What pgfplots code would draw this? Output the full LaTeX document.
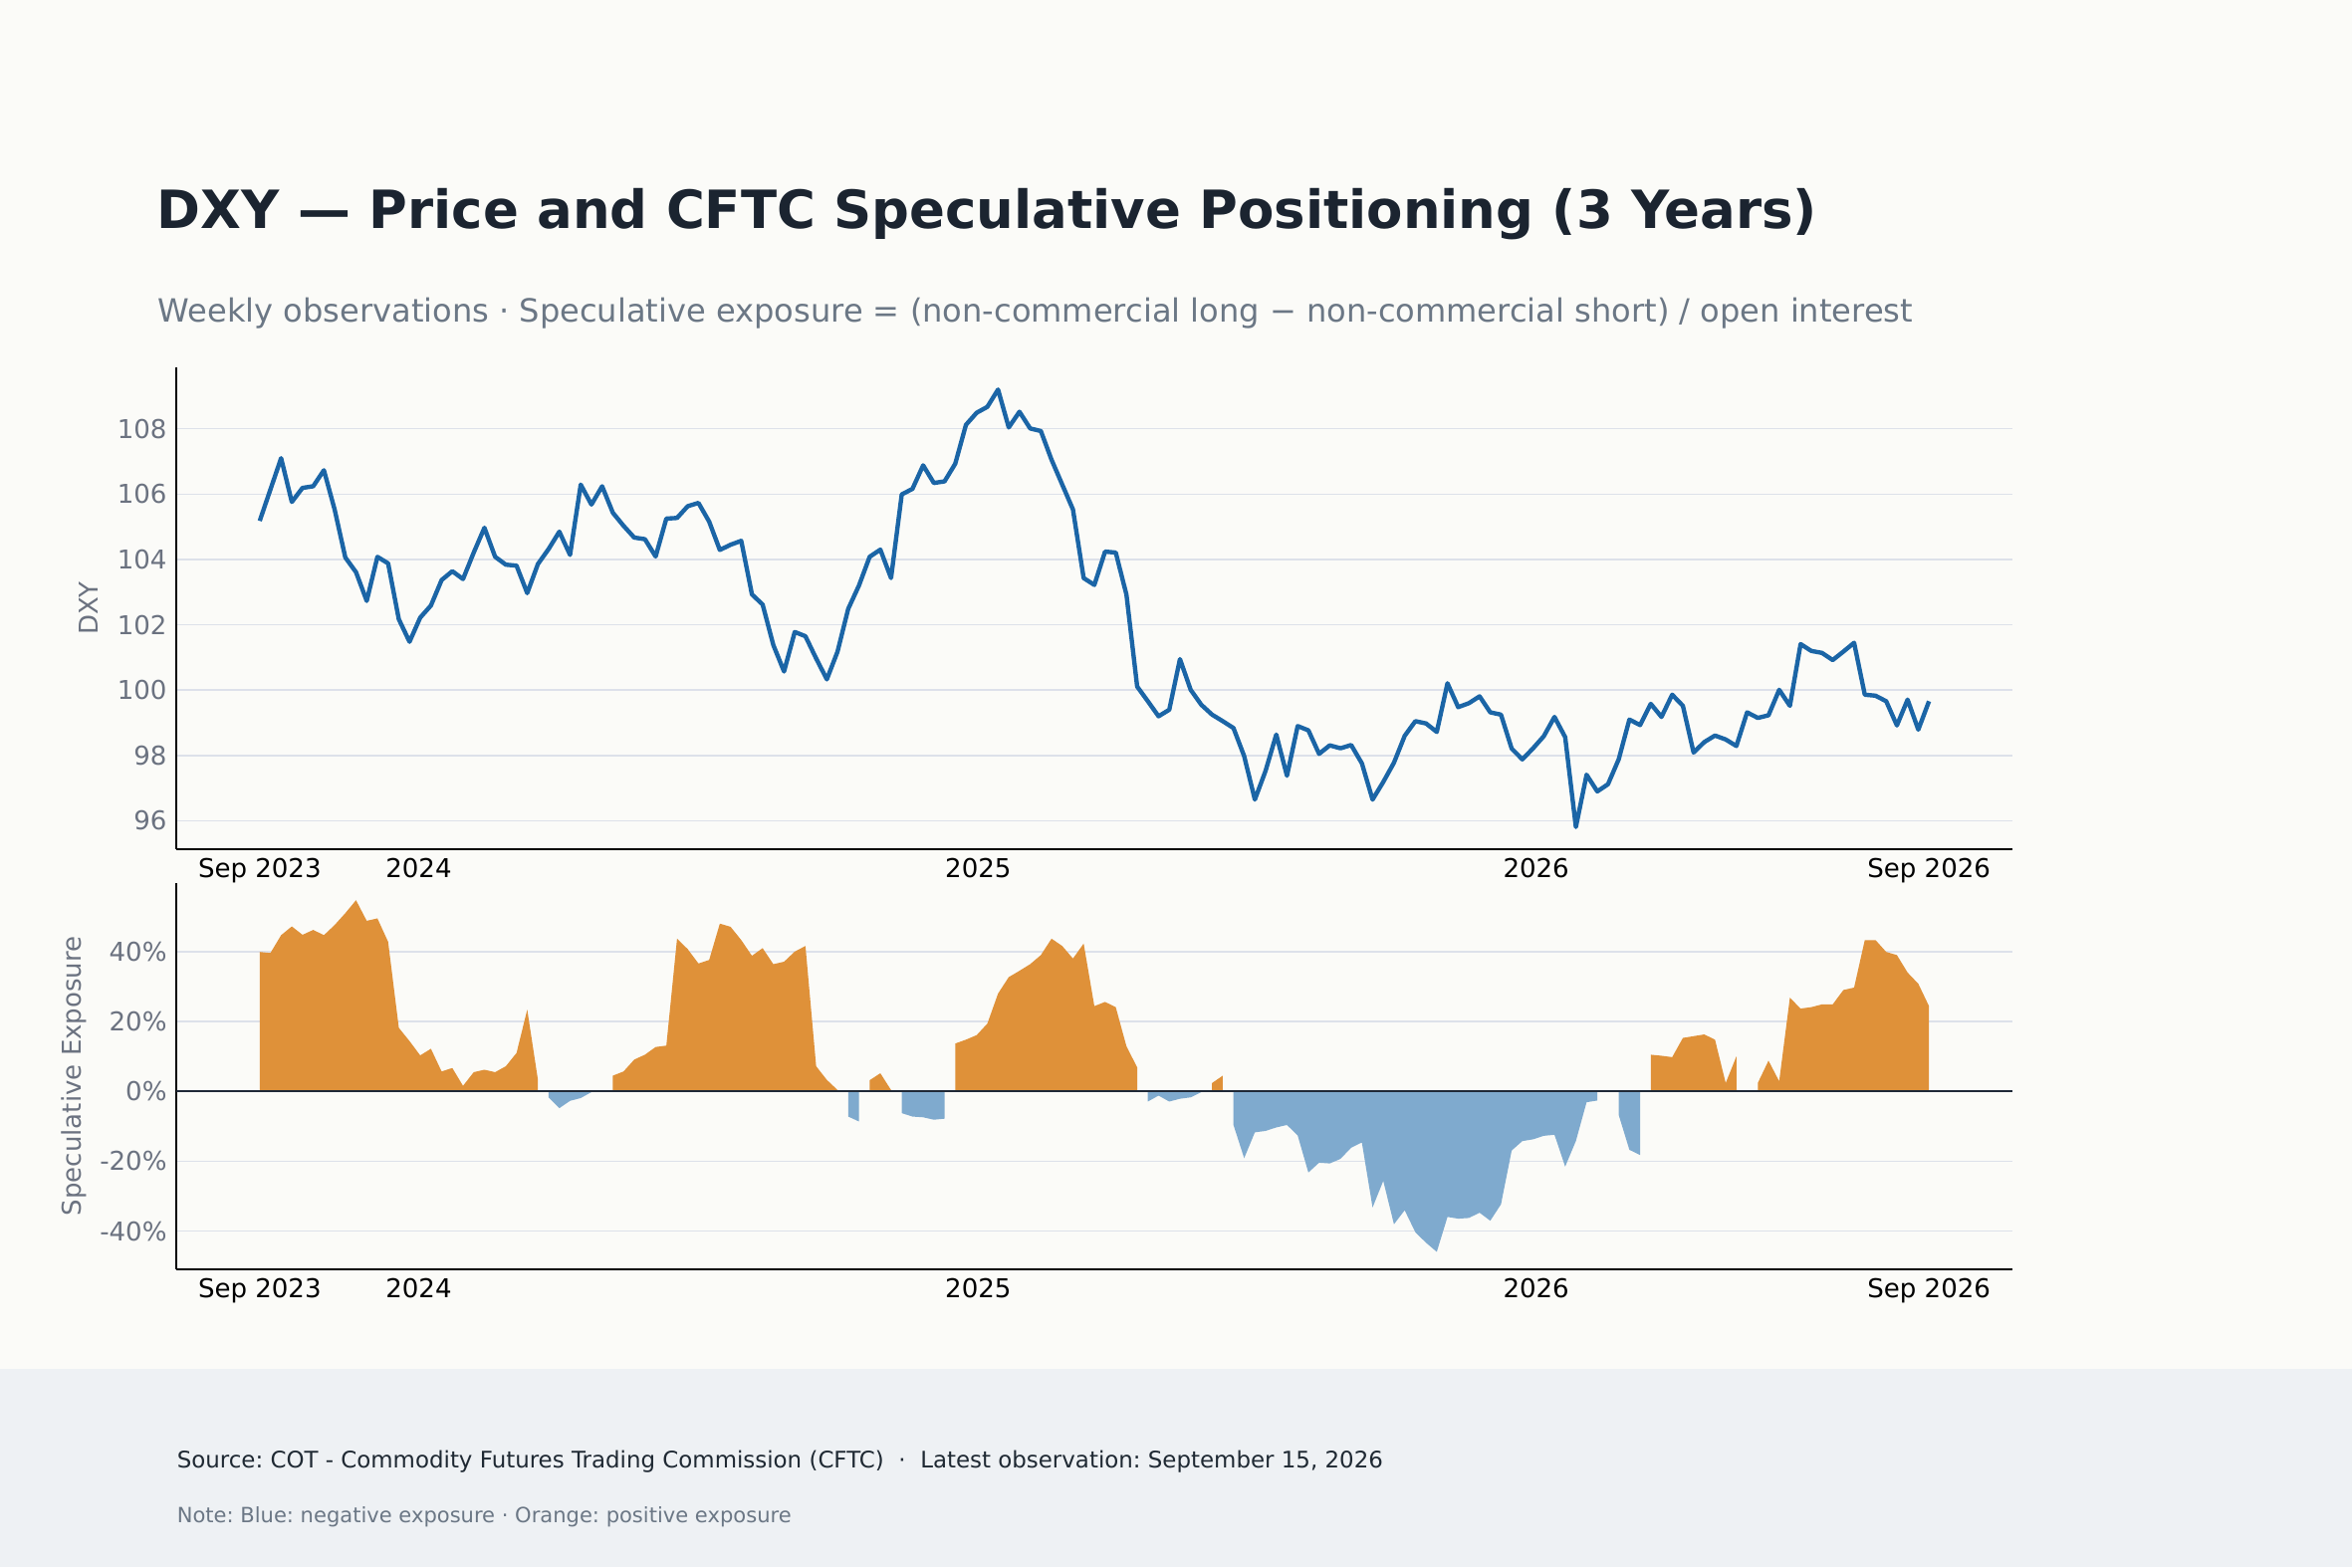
\documentclass[border=0pt]{standalone}
\usepackage{fontspec}
\setmainfont{DejaVu Sans}
\usepackage{pgfplots}
\pgfplotsset{compat=1.18}
\usepackage{pgfplotstable}
\frenchspacing
\definecolor{bgc}{HTML}{FBFBF8}
\definecolor{footbg}{HTML}{EEF1F4}
\definecolor{titlec}{HTML}{1B2430}
\definecolor{subc}{HTML}{6B7785}
\definecolor{srcc}{HTML}{1F2933}
\definecolor{tickc}{HTML}{6B7280}
\definecolor{gridc}{HTML}{DDE1EA}
\definecolor{linec}{HTML}{1B65A6}
\definecolor{orangeF}{HTML}{DF9139}
\definecolor{blueF}{HTML}{7FAACE}
\definecolor{zeroc}{HTML}{1F2937}

\pgfplotstableread{
i d s
0 105.18 39.9
1 106.14 39.6
2 107.10 44.7
3 105.76 47.2
4 106.19 44.8
5 106.24 46.2
6 106.73 44.7
7 105.53 47.6
8 104.06 51.0
9 103.61 54.7
10 102.73 48.8
11 104.08 49.5
12 103.88 42.8
13 102.17 18.2
14 101.48 14.4
15 102.22 10.3
16 102.59 12.2
17 103.37 5.7
18 103.64 6.7
19 103.40 1.6
20 104.21 5.5
21 104.97 6.2
22 104.08 5.5
23 103.84 7.2
24 103.81 11.0
25 102.97 23.4
26 103.86 3.3
27 104.32 -1.7
28 104.85 -4.8
29 104.14 -2.7
30 106.29 -1.9
31 105.68 -0.2
32 106.24 1.0
33 105.43 4.5
34 105.03 5.7
35 104.67 9.1
36 104.62 10.5
37 104.09 12.7
38 105.25 13.1
39 105.27 43.7
40 105.63 40.7
41 105.73 36.6
42 105.16 37.6
43 104.29 48.0
44 104.45 47.1
45 104.57 43.3
46 102.93 38.8
47 102.62 41.0
48 101.38 36.4
49 100.57 37.1
50 101.78 40.0
51 101.65 41.6
52 100.97 7.2
53 100.33 3.3
54 101.18 0.4
55 102.49 -7.2
56 103.20 -8.6
57 104.08 3.2
58 104.30 5.2
59 103.43 0.4
60 105.99 -6.2
61 106.16 -7.2
62 106.88 -7.4
63 106.34 -8.1
64 106.39 -7.8
65 106.93 13.7
66 108.12 14.8
67 108.49 16.1
68 108.67 19.4
69 109.20 28.0
70 108.04 32.7
71 108.52 34.5
72 108.01 36.4
73 107.93 39.0
74 107.05 43.7
75 106.29 41.6
76 105.53 38.0
77 103.43 42.3
78 103.22 24.4
79 104.24 25.6
80 104.21 24.1
81 102.92 12.9
82 100.11 6.9
83 99.66 -2.9
84 99.20 -1.2
85 99.40 -2.9
86 100.95 -2.1
87 100.01 -1.7
88 99.55 -0.2
89 99.25 2.4
90 99.05 4.5
91 98.84 -9.6
92 97.98 -19.1
93 96.65 -11.7
94 97.53 -11.3
95 98.64 -10.3
96 97.38 -9.6
97 98.90 -12.6
98 98.77 -23.2
99 98.05 -20.4
100 98.31 -20.6
101 98.22 -19.3
102 98.32 -16.1
103 97.76 -14.6
104 96.65 -33.2
105 97.19 -25.6
106 97.78 -38.0
107 98.60 -34.0
108 99.05 -40.3
109 98.98 -43.3
110 98.72 -45.9
111 100.21 -35.9
112 99.48 -36.4
113 99.60 -36.2
114 99.81 -34.7
115 99.32 -37.0
116 99.25 -32.3
117 98.21 -16.9
118 97.88 -14.2
119 98.22 -13.7
120 98.59 -12.7
121 99.18 -12.4
122 98.56 -21.5
123 95.81 -14.2
124 97.41 -3.1
125 96.90 -2.6
126 97.12 1.5
127 97.88 -6.7
128 99.10 -16.7
129 98.93 -18.2
130 99.58 10.5
131 99.18 10.2
132 99.86 9.8
133 99.52 15.3
134 98.09 15.8
135 98.41 16.3
136 98.61 14.8
137 98.49 2.4
138 98.29 10.0
139 99.32 -1.5
140 99.15 2.4
141 99.23 8.8
142 100.01 2.9
143 99.52 26.8
144 101.41 23.7
145 101.20 24.1
146 101.14 24.9
147 100.92 24.9
148 101.18 29.0
149 101.45 29.7
150 99.86 43.3
151 99.83 43.3
152 99.66 39.9
153 98.92 39.0
154 99.71 34.0
155 98.79 30.8
156 99.66 24.4
}\data

\pgfplotsset{
  common/.style={
    scale only axis,
    width=885.12pt,
    anchor=south west,
    xmin=-7.8, xmax=163.8,
    axis x line*=bottom, axis y line*=left,
    axis line style={-, black, line width=1pt},
    major tick length=0pt,
    ymajorgrids, xmajorgrids=false,
    grid style={gridc, line width=0.7pt},
    xtick={0,14.857,67.143,119.286,156},
    xticklabels={Sep 2023,2024,2025,2026,Sep 2026},
    xticklabel style={font=\fontsize{12.5}{15}\selectfont, text=black, yshift=-1pt},
    yticklabel style={font=\fontsize{12.5}{15}\selectfont, text=tickc, xshift=-1pt},
    /pgf/number format/assume math mode=true,
    scaled y ticks=false,
    clip=true,
  }
}

\begin{document}
\begin{tikzpicture}
\fill[bgc] (0,0) rectangle (1133.76pt,755.52pt);
\fill[footbg] (0,0) rectangle (1133.76pt,95.52pt);

\node[anchor=base west, inner sep=0, text=titlec, font=\fontsize{25.4}{30}\selectfont\bfseries] at (75.6pt,645.12pt) {DXY — Price and CFTC Speculative Positioning (3 Years)};
\node[anchor=base west, inner sep=0, text=subc, font=\fontsize{15.4}{18}\selectfont] at (76pt,600.34pt) {Weekly observations · Speculative exposure = (non-commercial long − non-commercial short) / open interest};
\node[anchor=base west, inner sep=0, text=srcc, font=\fontsize{11}{13}\selectfont] at (85.15pt,47.86pt) {Source: COT - Commodity Futures Trading Commission (CFTC) \ · \ Latest observation: September 15, 2026};
\node[anchor=base west, inner sep=0, text=subc, font=\fontsize{10.1}{12}\selectfont] at (85.15pt,21.6pt) {Note: Blue: negative exposure · Orange: positive exposure};

\begin{axis}[common,
  at={(84.96pt,346.22pt)}, height=232.03pt,
  ymin=95.14, ymax=109.87,
  ytick={96,98,100,102,104,106,108},
  ylabel={DXY},
  ylabel style={at={(axis description cs:-0.0478,0.5)}, anchor=center, font=\fontsize{12.5}{15}\selectfont, text=tickc},
]
\addplot[linec, line width=2.1pt, line join=round] table[x=i, y=d] {\data};
\end{axis}

\begin{axis}[common,
  at={(84.96pt,143.52pt)}, height=186.4pt,
  ymin=-50.9, ymax=59.7,
  ytick={-40,-20,0,20,40},
  yticklabel={\pgfmathprintnumber{\tick}\%},
  ylabel={Speculative Exposure},
  ylabel style={at={(axis description cs:-0.0556,0.5)}, anchor=center, font=\fontsize{12.5}{15}\selectfont, text=tickc},
]
\addplot[fill=orangeF, draw=none, restrict x to domain=0:26] table[x=i, y=s] {\data} \closedcycle;
\addplot[fill=blueF, draw=none, restrict x to domain=27:31] table[x=i, y=s] {\data} \closedcycle;
\addplot[fill=orangeF, draw=none, restrict x to domain=33:54] table[x=i, y=s] {\data} \closedcycle;
\addplot[fill=blueF, draw=none, restrict x to domain=55:56] table[x=i, y=s] {\data} \closedcycle;
\addplot[fill=orangeF, draw=none, restrict x to domain=57:59] table[x=i, y=s] {\data} \closedcycle;
\addplot[fill=blueF, draw=none, restrict x to domain=60:64] table[x=i, y=s] {\data} \closedcycle;
\addplot[fill=orangeF, draw=none, restrict x to domain=65:82] table[x=i, y=s] {\data} \closedcycle;
\addplot[fill=blueF, draw=none, restrict x to domain=83:88] table[x=i, y=s] {\data} \closedcycle;
\addplot[fill=orangeF, draw=none, restrict x to domain=89:90] table[x=i, y=s] {\data} \closedcycle;
\addplot[fill=blueF, draw=none, restrict x to domain=91:125] table[x=i, y=s] {\data} \closedcycle;
\addplot[fill=blueF, draw=none, restrict x to domain=127:129] table[x=i, y=s] {\data} \closedcycle;
\addplot[fill=orangeF, draw=none, restrict x to domain=130:138] table[x=i, y=s] {\data} \closedcycle;
\addplot[fill=orangeF, draw=none, restrict x to domain=140:156] table[x=i, y=s] {\data} \closedcycle;
\addplot[zeroc, line width=1pt] coordinates {(-7.8,0) (163.8,0)};
\end{axis}
\end{tikzpicture}
\end{document}
